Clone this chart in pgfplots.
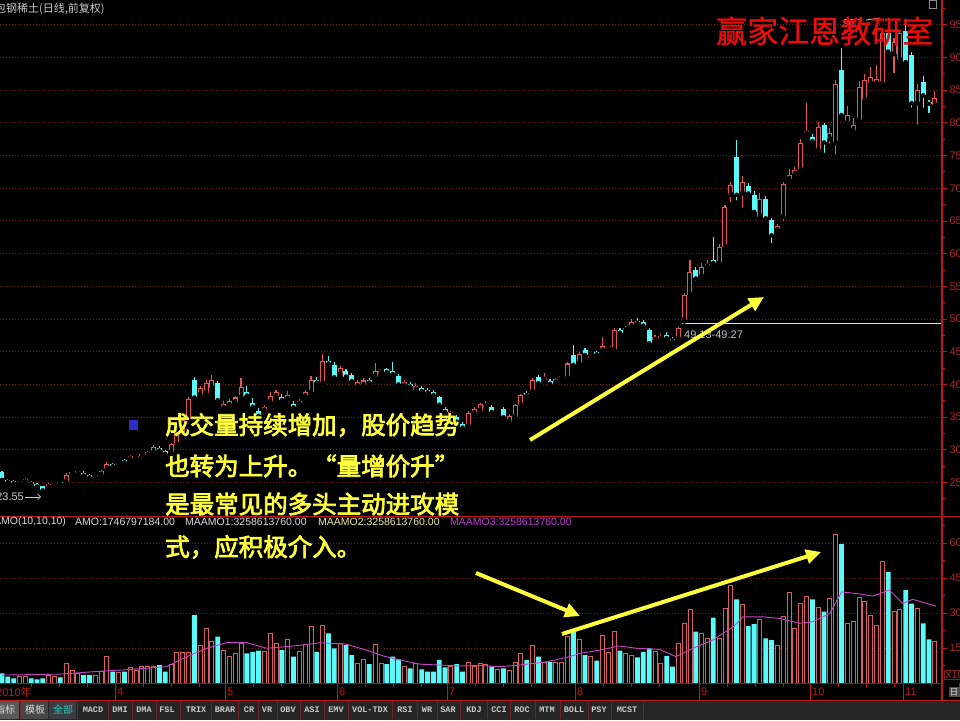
\documentclass[border=0pt]{standalone}
\usepackage{pgfplots}
\usepackage{pgfplotstable}
\pgfplotsset{compat=1.18}
\usepackage{fontspec}
\setmainfont{Liberation Sans}
\newfontfamily\cjk{Noto Sans CJK SC}
\newfontfamily\cjkb[FakeBold=3]{Noto Sans CJK SC}
\newfontfamily\cjkt[FakeBold=1]{Noto Sans CJK SC}
\newfontfamily\mono{Liberation Mono}
\usetikzlibrary{arrows.meta}

\definecolor{upred}{RGB}{230,85,85}
\definecolor{volred}{RGB}{215,95,95}
\definecolor{downcyan}{RGB}{90,250,250}
\definecolor{gridred}{RGB}{125,25,25}
\definecolor{axisred}{RGB}{190,25,25}
\definecolor{labred}{RGB}{170,40,40}
\definecolor{maline}{RGB}{200,70,200}
\definecolor{ylw}{RGB}{255,255,60}
\definecolor{titlered}{RGB}{232,12,12}
\definecolor{mag}{RGB}{190,60,210}
\definecolor{tabbg}{RGB}{38,38,38}
\definecolor{sepred}{RGB}{120,35,35}
\definecolor{sqblue}{RGB}{45,45,200}
\definecolor{lightylw}{RGB}{235,235,170}
\definecolor{tabcyan}{RGB}{40,210,190}

\pgfplotstableread{
x o h l c v
3 24.9 25.4 24.7 25.2 2.7
4 25.1 25.7 25.0 25.5 2.7
8 24.3 24.9 24.1 24.7 3.4
9 24.6 25.1 24.4 24.9 3.0
11 25.1 26.4 25.0 26.2 8.4
12 26.3 26.8 26.1 26.6 5.3
13 26.4 26.9 26.3 26.7 4.1
16 25.8 26.2 25.6 26.1 3.4
17 26.2 26.9 26.1 26.7 4.9
18 27.1 28.1 27.0 27.9 11.3
20 27.7 28.2 27.6 28.0 4.4
22 28.6 29.2 28.5 29.0 6.7
23 28.8 29.3 28.6 29.1 5.6
24 29.0 29.5 28.9 29.3 7.0
25 29.2 29.8 29.1 29.6 7.3
26 29.6 30.7 29.5 30.5 7.0
29 29.6 31.1 29.5 30.9 8.1
30 30.8 32.7 30.7 32.5 13.0
31 32.3 34.7 32.1 34.5 13.0
32 34.4 38.1 34.2 37.8 13.0
34 38.4 39.8 38.0 39.5 16.3
35 38.7 40.6 38.3 40.2 23.4
36 39.4 41.5 39.0 40.7 17.7
38 36.4 37.4 36.0 37.0 14.1
39 36.8 37.7 36.5 37.4 11.6
40 37.2 38.3 37.0 38.0 12.7
41 38.0 41.0 37.8 39.6 17.0
45 36.0 36.9 35.8 36.6 13.4
46 37.3 38.9 37.0 38.3 21.3
47 38.2 39.2 38.0 38.8 17.0
49 37.8 39.0 37.5 38.4 18.7
51 37.0 37.8 36.8 37.5 13.4
52 38.2 39.1 38.0 38.8 16.7
53 38.8 41.3 38.6 40.7 24.4
55 40.2 44.6 40.0 43.6 24.9
58 41.5 42.8 41.2 42.5 17.0
61 39.7 40.6 39.3 40.3 8.4
62 39.8 41.0 39.5 40.6 10.1
64 41.2 43.3 41.0 42.0 16.7
65 41.8 42.4 41.6 42.1 8.4
69 39.8 40.6 39.5 40.3 7.3
71 39.2 40.2 38.8 39.8 8.4
77 35.3 36.0 35.0 35.8 7.0
80 33.6 35.9 33.4 35.6 8.7
81 35.6 36.5 35.4 36.2 7.0
82 36.0 37.2 35.8 37.0 8.4
83 36.6 37.4 36.4 36.9 8.1
85 36.3 36.9 36.1 36.6 5.9
87 34.3 35.4 34.0 35.2 5.3
88 35.0 37.0 34.9 36.8 8.7
89 36.8 38.6 36.6 38.4 12.7
91 38.9 41.0 38.7 40.7 15.9
93 40.7 41.7 40.5 41.0 8.7
95 40.3 41.0 40.1 40.8 8.7
96 41.0 41.5 40.8 41.3 8.7
97 41.0 43.5 40.8 43.2 19.9
99 43.2 45.0 43.0 44.7 18.7
101 44.1 44.7 43.8 44.4 11.3
103 45.2 47.3 45.0 45.8 20.6
104 45.5 46.0 45.3 45.8 13.0
105 45.3 48.6 45.1 48.3 22.0
107 48.3 49.0 48.0 48.7 12.7
108 48.8 50.0 48.5 49.6 12.0
112 46.8 47.6 46.5 47.3 13.4
113 47.0 47.7 46.8 47.4 8.4
116 47.0 48.8 46.8 48.6 17.0
117 49.8 54.0 49.6 53.7 25.6
118 53.7 59.0 53.5 57.2 31.6
120 56.5 58.6 56.2 58.0 21.3
121 58.0 59.0 57.8 58.4 19.1
123 58.5 61.5 58.3 61.0 19.1
124 61.0 67.5 60.8 67.2 32.0
125 69.0 71.0 67.5 70.5 42.0
127 69.2 71.8 66.7 71.0 33.9
130 65.6 69.2 65.4 68.4 27.3
133 63.6 64.6 63.2 64.2 16.1
134 65.6 70.9 64.6 70.7 28.4
135 71.4 73.0 71.0 72.0 38.7
136 72.2 73.2 71.8 72.8 23.4
137 72.8 77.5 72.4 76.9 34.1
138 78.3 83.0 77.8 78.8 37.0
140 75.8 80.2 75.3 79.4 32.4
142 77.5 79.2 76.5 78.4 36.3
143 76.9 86.5 74.8 86.0 63.9
145 80.0 82.5 79.8 81.2 25.6
146 78.8 80.8 78.2 79.6 26.3
147 80.4 86.4 80.0 85.5 36.7
148 83.5 87.5 83.2 86.5 34.9
149 86.0 88.6 85.6 87.0 29.1
150 86.0 88.8 85.3 86.7 24.9
151 86.0 94.5 85.5 93.7 52.0
153 90.5 93.0 87.3 92.4 30.6
154 89.6 94.2 89.3 93.7 31.6
157 83.0 86.0 79.4 85.0 32.0
160 82.7 84.8 82.2 83.8 17.7
}\upt

\pgfplotstableread{
x o h l c v
0 26.6 26.8 25.2 25.4 4.1
1 25.4 25.6 25.0 25.1 2.7
2 25.2 25.4 24.8 24.9 2.0
5 25.1 25.3 24.6 24.8 2.0
6 24.7 24.9 24.3 24.4 1.6
7 24.4 24.5 23.55 23.8 2.0
10 25.1 25.3 24.8 24.9 2.4
14 26.5 26.7 26.0 26.1 3.4
15 26.2 26.3 25.7 25.8 3.4
19 27.8 28.0 27.4 27.5 4.9
21 28.4 28.6 28.0 28.1 4.9
27 30.3 30.6 29.8 29.9 7.7
28 29.8 30.0 29.3 29.4 4.9
33 40.6 41.1 37.8 38.0 29.1
37 40.2 40.5 37.4 37.6 19.9
42 38.8 39.7 37.9 38.3 12.7
43 37.2 37.9 36.3 36.6 13.4
44 36.0 36.4 35.0 35.2 13.9
48 38.1 38.5 37.3 37.6 14.1
50 37.0 37.5 36.2 36.5 11.3
54 40.7 41.2 40.0 40.3 13.4
56 43.6 44.3 42.9 43.2 21.3
57 43.0 43.4 40.8 41.1 14.9
59 42.0 42.3 40.9 41.2 16.3
60 41.5 41.8 40.2 40.5 12.0
63 40.7 41.0 40.0 40.3 8.1
66 42.3 42.5 41.6 41.9 8.1
67 42.1 43.5 41.3 41.6 11.3
68 41.3 41.6 39.8 40.0 10.1
70 40.0 40.3 39.4 39.7 6.3
72 39.5 39.8 38.8 39.0 5.9
73 39.2 39.4 38.6 38.8 4.9
74 38.8 39.1 38.1 38.4 4.9
75 38.0 38.3 36.7 36.9 9.9
76 36.3 36.6 35.5 35.8 6.7
78 35.0 35.3 34.0 34.3 8.1
79 34.0 34.2 33.2 33.4 4.9
84 36.6 36.9 35.6 35.8 7.0
86 36.3 36.5 34.8 35.0 6.3
90 38.7 39.0 38.2 38.4 9.9
92 41.2 41.5 40.0 40.2 11.3
94 40.5 40.8 39.9 40.1 9.1
98 44.5 46.0 42.8 43.0 22.0
100 45.2 45.5 44.2 44.5 12.0
102 44.9 45.1 44.3 44.6 9.6
106 48.3 48.6 47.5 47.9 13.9
109 49.7 50.1 49.2 49.4 11.0
110 49.5 49.8 48.7 49.0 13.4
111 48.3 48.6 46.0 46.3 14.9
114 47.5 48.0 46.8 47.1 11.6
115 47.0 47.2 46.5 46.7 7.0
119 57.5 58.0 55.5 56.2 22.0
122 59.0 62.6 58.3 58.6 28.1
126 74.8 77.4 67.8 69.0 35.9
128 70.3 70.8 68.8 69.2 24.4
129 69.0 69.5 66.0 66.4 25.3
131 68.4 68.8 65.0 65.4 19.1
132 65.1 65.5 61.3 62.8 18.4
139 77.8 78.3 76.8 77.2 35.9
141 79.7 80.0 75.1 77.0 30.6
144 88.0 91.4 80.5 81.2 59.6
152 93.7 96.0 90.2 90.9 47.7
155 94.0 95.8 88.8 89.3 39.9
156 90.4 90.8 82.0 83.0 34.1
158 86.2 87.2 82.0 84.2 25.6
159 83.2 83.5 81.2 82.9 18.7
}\downt

\pgfplotsset{
  panel/.style={
    scale only axis, anchor=south west, width=942pt,
    xmin=-0.343, xmax=161.23,
    axis line style={draw=none}, xtick=\empty,
    ytick pos=right, yticklabel pos=right, tick align=outside,
    major tick length=5pt, minor tick length=3pt,
    tick style={draw=axisred, line width=0.8pt},
    yticklabel style={text=labred, font=\fontsize{11}{11}\selectfont, anchor=west, xshift=-1pt},
    /pgf/number format/assume math mode=true,
    ymajorgrids,
    major grid style={draw=gridred, line width=0.9pt, dash pattern=on 1pt off 2pt},
  },
  wick/.style={only marks, mark=none, error bars/.cd, y dir=plus, y explicit, error mark=none,
    error bar style={draw=#1, line width=1.1pt}},
  body/.style 2 args={only marks, mark=none, error bars/.cd, y dir=plus, y explicit, error mark=none,
    error bar style={draw=#1, line width=#2}},
}

\begin{document}
\begin{tikzpicture}[x=1pt,y=1pt]
\useasboundingbox (0,0) rectangle (960,720);
\fill[black] (0,0) rectangle (960,720);

% price panel
\begin{axis}[panel, at={(0pt,204pt)}, height=516pt, ymin=19.88, ymax=98.78,
  ytick={25,30,...,95}, minor ytick={22.5,27.5,...,97.5}]
\addplot[wick=upred] table[x=x, y=l, y error plus expr={\thisrow{h}-\thisrow{l}}] {\upt};
\addplot[body={upred}{5pt}] table[x=x, y=o, y error plus expr={max(\thisrow{c}-\thisrow{o},0.18)}] {\upt};
\addplot[body={black}{3pt}] table[x=x, y expr=\thisrow{o}+0.16, y error plus expr={max(\thisrow{c}-\thisrow{o}-0.32,0)}] {\upt};
\addplot[wick=downcyan] table[x=x, y=l, y error plus expr={\thisrow{h}-\thisrow{l}}] {\downt};
\addplot[body={downcyan}{5pt}] table[x=x, y=c, y error plus expr={max(\thisrow{o}-\thisrow{c},0.18)}] {\downt};
\addplot[white!80!gray, line width=0.9pt] coordinates {(116.6,49.35) (161.2,49.35)};
\node[anchor=west, text=white!75!black, font=\fontsize{11}{11}\selectfont, inner sep=1pt] at (axis cs:116.8,47.6) {49.13-49.27};
\end{axis}

% volume panel
\begin{axis}[panel, at={(0pt,37pt)}, height=165pt, ymin=0, ymax=70.8,
  ytick={15,30,45,60}, minor ytick={7.5,22.5,37.5,52.5,67.5}]
\addplot[ybar, bar width=4pt, bar shift=0pt, draw=volred, fill=black, line width=0.9pt] table[x=x, y=v] {\upt};
\addplot[ybar, bar width=4.8pt, bar shift=0pt, draw=none, fill=downcyan] table[x=x, y=v] {\downt};
\addplot[maline, line width=0.9pt, mark=none] coordinates {
(0,3.4) (5,3.6) (10,3.8) (16,4.9) (22,5.8) (28.2,7) (31.7,11.3) (35.1,14.9) (38.5,17.3) (42,17.3)
(45.4,14.9) (48.8,15.6) (51.7,16.3) (54.5,17.3) (59,16.7) (62.5,14.1) (65.4,11.6) (68.2,9.9)
(71.6,8.1) (75.1,7.7) (78.5,7.3) (81.9,7.5) (85.4,7) (88.8,7.7) (93.4,9.1) (97.4,11.3) (99.1,12.7)
(102.5,14.1) (105.9,15.9) (108.8,14.9) (112.8,14.4) (115.6,11.3) (118.5,14.9) (121.9,18.4)
(125.4,24.1) (127.1,28.4) (130.5,28.4) (133.4,27.7) (136.8,25.6) (139.1,26.3) (142,29.9)
(144,39.1) (146.5,38.4) (149.4,37.3) (152.2,39.9) (154.5,34.1) (156.2,35.9) (160.2,33)};
\end{axis}

% frame lines
\draw[axisred, line width=1.2pt] (942,720) -- (942,20);
\draw[axisred, line width=1.6pt] (0,203.5) -- (960,203.5);
\draw[sepred, line width=1pt] (0,37) -- (942,37);
\draw[axisred, line width=1pt] (0,20) -- (960,20);

% header texts
\node[anchor=west, inner sep=0, text=white!80!black, font=\cjk\fontsize{11}{11}\selectfont] at (-5,711) {包钢稀土(日线,前复权)};
\node[anchor=west, inner sep=0, text=white!60!gray, font=\fontsize{10}{10}\selectfont] at (843,697) {96.7};
\draw[white!60!gray, line width=0.8pt] (866,700) -- (880,702);
\draw[white!55!black, line width=0.8pt] (929,712) rectangle (936,720);
\node[anchor=west, inner sep=0, text=titlered, font=\cjkt\fontsize{31}{31}\selectfont] at (716,689) {赢家江恩教研室};

\node[anchor=west, inner sep=0, text=white!85!black, font=\fontsize{10.5}{10.5}\selectfont] at (-6,198) {AMO(10,10,10)};
\node[anchor=west, inner sep=0, text=white!85!black, font=\fontsize{10.5}{10.5}\selectfont] at (75,198) {AMO:1746797184.00};
\node[anchor=west, inner sep=0, text=white!85!black, font=\fontsize{10.5}{10.5}\selectfont] at (185,198) {MAAMO1:3258613760.00};
\node[anchor=west, inner sep=0, text=lightylw, font=\fontsize{10.5}{10.5}\selectfont] at (318,198) {MAAMO2:3258613760.00};
\node[anchor=west, inner sep=0, text=mag, font=\fontsize{10.5}{10.5}\selectfont] at (450,198) {MAAMO3:3258613760.00};

% low price label
\node[anchor=east, inner sep=0, text=white!80!black, font=\fontsize{11}{11}\selectfont] at (24,223) {23.55};
\draw[white!80!black, line width=0.7pt, -{Straight Barb[length=3pt]}] (25,223) -- (41,223);

% blue square
\fill[sqblue] (129,290) rectangle (138,300);

% yellow annotations
\node[anchor=west, inner sep=0, text=ylw, font=\cjkb\fontsize{24.5}{24.5}\selectfont] at (165,295) {成交量持续增加，股价趋势};
\node[anchor=west, inner sep=0, text=ylw, font=\cjkb\fontsize{24.5}{24.5}\selectfont] at (165,254) {也转为上升。\makebox[24.5pt][r]{“}量增价升\makebox[24.5pt][l]{”}};
\node[anchor=west, inner sep=0, text=ylw, font=\cjkb\fontsize{24.5}{24.5}\selectfont] at (165,216) {是最常见的多头主动进攻模};
\node[anchor=west, inner sep=0, text=ylw, font=\cjkb\fontsize{24.5}{24.5}\selectfont] at (165,173) {式，应积极介入。};

\draw[ylw, line width=4pt, -{Triangle[length=15pt,width=14pt]}] (530,280) -- (764,423);
\draw[ylw, line width=4pt, -{Triangle[length=15pt,width=14pt]}] (476,147) -- (580,104);
\draw[ylw, line width=4pt, -{Triangle[length=15pt,width=14pt]}] (562,86) -- (821,168);

% right side small labels
\node[anchor=west, inner sep=1pt, text=labred, font=\fontsize{10}{10}\selectfont, draw=sepred] at (944,45) {X10};
\node[inner sep=1pt, text=white!80!black, fill=white!30!black, font=\cjk\fontsize{9}{9}\selectfont] at (954,28) {日};

% date strip
\node[anchor=west, inner sep=0, text=axisred, font=\fontsize{11}{11}\selectfont] at (-4,28) {2010{\cjk 年}};
\foreach \m/\xx in {4/118,5/228,6/340,7/450,8/578,9/702,10/813,11/906}{
  \draw[axisred, line width=0.8pt] (\xx-3,20) -- (\xx-3,37);
  \node[anchor=west, inner sep=0, text=axisred, font=\fontsize{11}{11}\selectfont] at (\xx-1,28) {\m};
  \foreach \k in {1,2,3}{\draw[axisred, line width=0.7pt] (\xx-3+28*\k,33) -- (\xx-3+28*\k,37);}
}
\foreach \k in {1,2,3}{\draw[axisred, line width=0.7pt] (115-28*\k,33) -- (115-28*\k,37);}

% tab bar
\fill[tabbg] (0,0) rectangle (960,19.5);
\fill[white!35!black] (0,1) rectangle (19,19);
\fill[white!28!black] (21,1) rectangle (48,19);
\fill[black!85!cyan] (50,1) rectangle (76,19);
\node[text=white!85!black, font=\cjk\fontsize{10}{10}\selectfont, inner sep=0] at (5,10) {指标};
\node[text=white!85!black, font=\cjk\fontsize{10}{10}\selectfont, inner sep=0] at (35,10) {模板};
\node[text=tabcyan, font=\cjk\fontsize{10}{10}\selectfont, inner sep=0] at (63,10) {全部};
\foreach \xx/\lab in {93/MACD,120/DMI,144/DMA,167/FSL,196/TRIX,225/BRAR,249/CR,267/VR,288/OBV,312/ASI,336/EMV,370/VOL-TDX,405/RSI,427/WR,448/SAR,474/KDJ,499/CCI,522/ROC,547/MTM,574/BOLL,599/PSY,627/MCST}{
  \node[text=white!80!black, font=\mono\bfseries\fontsize{8.5}{8.5}\selectfont, inner sep=0] at (\xx,10) {\lab};
}
\foreach \s in {20,49,77,108,132,156,180,211,238,258,277,300,324,348,392,417,437,460,487,510,535,560,588,611,643}{
  \draw[sepred, line width=0.8pt] (\s,1) -- (\s,19);
}
\end{tikzpicture}
\end{document}
